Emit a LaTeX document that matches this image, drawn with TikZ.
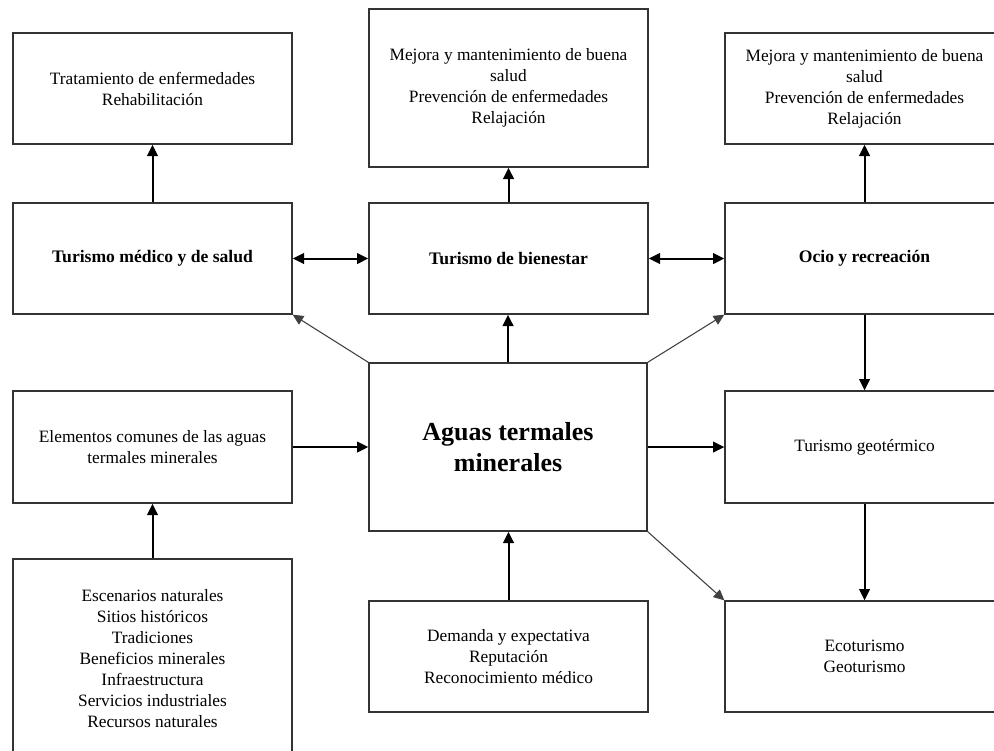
\documentclass[tikz,border=0pt]{standalone}
\usepackage{fontspec}
\setmainfont{Liberation Serif}
\usetikzlibrary{arrows.meta}
\begin{document}
\begin{tikzpicture}[x=0.75pt,y=-0.75pt,
  box/.style={draw=black!80, line width=1pt, fill=white, align=center,
    inner sep=0pt, minimum width=279*0.75pt,
    font=\fontsize{13}{15.75}\selectfont},
  boldbox/.style={box, font=\fontsize{13.2}{15.75}\selectfont\bfseries},
  conn/.style={-{Triangle[length=8.5pt,width=8pt]}, line width=1.5pt, draw=black},
  dbl/.style={{Triangle[length=8.5pt,width=8pt]}-{Triangle[length=8.5pt,width=8pt]}, line width=1.5pt},
  diag/.style={-{Triangle[length=8pt,width=7.5pt]}, line width=0.8pt, draw=black!75}]
\useasboundingbox (0,0) rectangle (994,750);
\clip (0,0) rectangle (994,750);
\fill[white] (0,0) rectangle (994,750);

% top row
\node[box, minimum height=111*0.75pt] (A) at (152.5,88.5)
  {Tratamiento de enfermedades\\Rehabilitación};
\node[box, minimum height=158*0.75pt] (B) at (508.5,88)
  {Mejora y mantenimiento de buena\\salud\\Prevención de enfermedades\\Relajación};
\node[box, minimum height=111*0.75pt] (C) at (864.5,88.5)
  {Mejora y mantenimiento de buena\\salud\\Prevención de enfermedades\\Relajación};

% tourism types
\node[boldbox, minimum height=111*0.75pt] (D) at (152.5,258.5) {Turismo médico y de salud};
\node[boldbox, minimum height=111*0.75pt] (E) at (508.5,258.5) {Turismo de bienestar};
\node[boldbox, minimum height=111*0.75pt] (F) at (864.5,258.5) {Ocio y recreación};

% centre
\node[box, minimum width=278*0.75pt, minimum height=168*0.75pt,
  font=\fontsize{19.5}{23.5}\selectfont\bfseries] (G) at (508,447)
  {Aguas termales\\minerales};
\node[box, minimum height=112*0.75pt] (H) at (152.5,447)
  {Elementos comunes de las aguas\\termales minerales};
\node[box, minimum height=112*0.75pt] (J) at (864.5,447) {Turismo geotérmico};

% bottom row
\node[box, minimum height=200*0.75pt] (I) at (152.5,659)
  {Escenarios naturales\\Sitios históricos\\Tradiciones\\Beneficios minerales\\Infraestructura\\Servicios industriales\\Recursos naturales};
\node[box, minimum height=111*0.75pt] (L) at (508.5,656.5)
  {Demanda y expectativa\\Reputación\\Reconocimiento médico};
\node[box, minimum height=111*0.75pt] (K) at (864.5,656.5) {Ecoturismo\\Geoturismo};

% connectors
\draw[conn] (D.north) -- (A.south);
\draw[conn] (E.north) -- (B.south);
\draw[conn] (F.north) -- (C.south);
\draw[dbl] (D.east) -- (E.west);
\draw[dbl] (E.east) -- (F.west);
\draw[conn] (G.north) -- (G.north |- E.south);
\draw[diag] (G.north west) -- (D.south east);
\draw[diag] (G.north east) -- (F.south west);
\draw[conn] (H.east) -- (H.east -| G.west);
\draw[conn] (G.east) -- (J.west);
\draw[conn] (I.north) -- (H.south);
\draw[conn] (L.north) -- (L.north |- G.south);
\draw[conn] (F.south) -- (J.north);
\draw[conn] (J.south) -- (K.north);
\draw[diag] (G.south east) -- (K.north west);
\end{tikzpicture}
\end{document}
